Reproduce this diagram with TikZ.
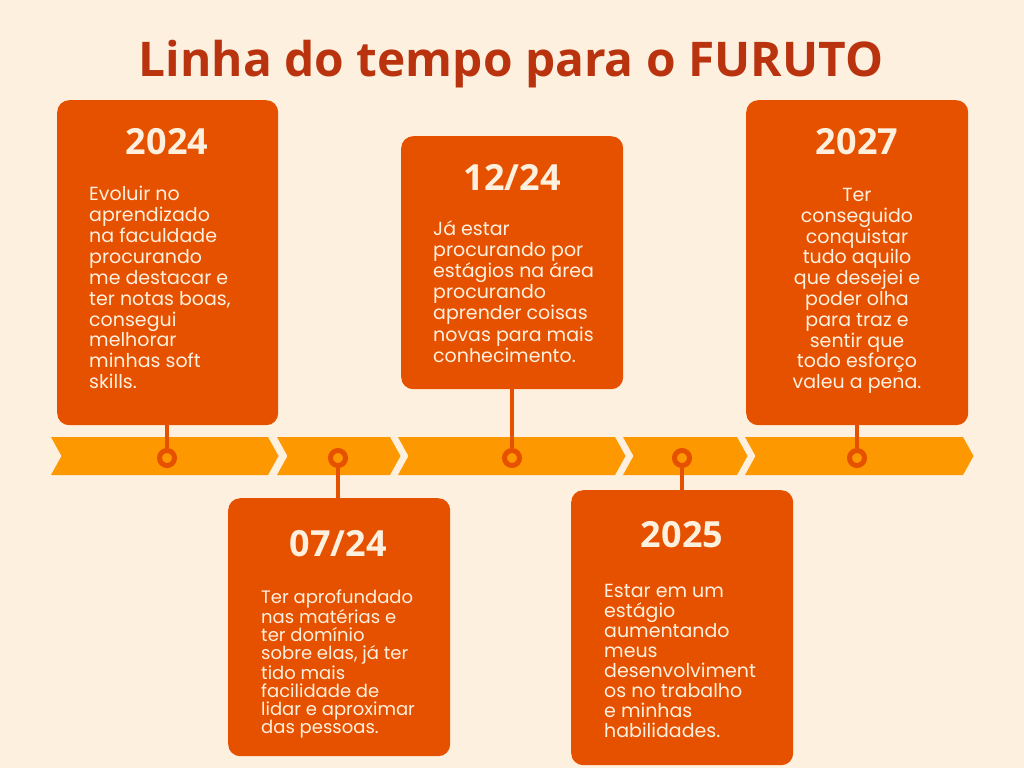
\documentclass[tikz,border=0pt]{standalone}
\usepackage{fontspec}
\setmainfont{Poppins}
\newfontfamily\headfont{Open Sans}
\usetikzlibrary{positioning}

\definecolor{paper}{HTML}{FEF0DE}
\definecolor{titlered}{HTML}{B9330F}
\definecolor{cardorange}{HTML}{E65100}
\definecolor{bandorange}{HTML}{FE9800}

\tikzset{
  card/.style={fill=cardorange, rounded corners=12pt, anchor=north west, inner sep=0pt},
  year/.style={text=paper, anchor=base, inner sep=0pt,
    font=\headfont\bfseries\fontsize{36}{40}\selectfont},
  note/.style={text=paper, align=left, anchor=north west, inner sep=0pt},
  ring/.style={circle, draw=cardorange, fill=bandorange, line width=5pt,
    minimum size=15pt, inner sep=0pt},
  stem/.style={draw=cardorange, line width=4pt},
}

% one piece of the arrow band
\newcommand{\chevron}[2]{%
  \fill[bandorange] (#1,437) -- (#2,437) -- (#2+10.5,456) -- (#2,475)
    -- (#1,475) -- (#1+10.5,456) -- cycle;}

\begin{document}
\begin{tikzpicture}[x=1pt, y=-1pt]

  % background
  \fill[paper] (0,0) rectangle (1024,768);
  \useasboundingbox (0,0) rectangle (1024,768);

  % title
  \node[text=titlered, anchor=base, inner sep=0pt,
    font=\headfont\bfseries\fontsize{47.8}{54}\selectfont] (title) at (511,77)
    {Linha do tempo para o FURUTO};

  % the arrow band
  \chevron{51}{268}
  \chevron{277}{390}
  \chevron{398}{615}
  \chevron{623}{737}
  \chevron{745}{963}

  % cards above and below the band
  \node[card, minimum width=221pt, minimum height=325pt] (c2024) at (57,100) {};
  \node[card, minimum width=222pt, minimum height=258pt] (c0724) at (228,498) {};
  \node[card, minimum width=222pt, minimum height=253pt] (c1224) at (401,136) {};
  \node[card, minimum width=222pt, minimum height=275pt] (c2025) at (571,490) {};
  \node[card, minimum width=222pt, minimum height=325pt] (c2027) at (746,100) {};

  % rings on the band
  \node[ring] (r2024) at (167,458) {};
  \node[ring] (r0724) at (338,458) {};
  \node[ring] (r1224) at (512,458) {};
  \node[ring] (r2025) at (682,458) {};
  \node[ring] (r2027) at (857,458) {};

  % stems from card to ring
  \draw[stem] (c2024.south -| r2024) -- (r2024);
  \draw[stem] (c0724.north -| r0724) -- (r0724);
  \draw[stem] (c1224.south -| r1224) -- (r1224);
  \draw[stem] (c2025.north -| r2025) -- (r2025);
  \draw[stem] (c2027.south -| r2027) -- (r2027);

  % years
  \node[year] (y2024) at (167,154) {2024};
  \node[year] (y0724) at (338,556) {07/24};
  \node[year] (y1224) at (512,190) {12/24};
  \node[year] (y2025) at (682,547) {2025};
  \node[year] (y2027) at (857,154) {2027};

  % texts
  \node[note, font=\fontsize{19}{20.9}\selectfont] (t2024) at (89,186)
    {Evoluir no\\aprendizado\\na faculdade\\procurando\\me destacar e\\ter notas boas,\\consegui\\melhorar\\minhas soft\\skills.};
  \node[note, font=\fontsize{18}{18}\selectfont] (t0724) at (261,590)
    {Ter aprofundado\\nas matérias e\\ter domínio\\sobre elas, já ter\\tido mais\\facilidade de\\lidar e aproximar\\das pessoas.};
  \node[note, font=\fontsize{19}{21.2}\selectfont] (t1224) at (433,220)
    {Já estar\\procurando por\\estágios na área\\procurando\\aprender coisas\\novas para mais\\conhecimento.};
  \node[note, font=\fontsize{19}{20}\selectfont] (t2025) at (604,584)
    {Estar em um\\estágio\\aumentando\\meus\\desenvolviment\\os no trabalho\\e minhas\\habilidades.};
  \node[note, align=center, anchor=north, font=\fontsize{19}{20.8}\selectfont] (t2027) at (857,188)
    {Ter\\conseguido\\conquistar\\tudo aquilo\\que desejei e\\poder olha\\para traz e\\sentir que\\todo esforço\\valeu a pena.};

\end{tikzpicture}
\end{document}
